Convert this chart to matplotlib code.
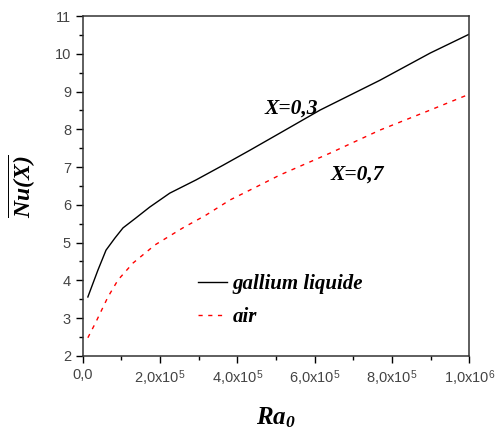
import numpy as np
import matplotlib.pyplot as plt
from matplotlib.ticker import MultipleLocator

plt.rcParams['mathtext.fontset'] = 'custom'
plt.rcParams['mathtext.rm'] = 'Liberation Serif:italic:bold'
plt.rcParams['mathtext.it'] = 'Liberation Serif:italic:bold'
plt.rcParams['mathtext.sf'] = 'Liberation Sans'

# gallium liquide (X=0,3)
ra_ga = [0.013e6, 0.039e6, 0.060e6, 0.083e6, 0.104e6, 0.137e6, 0.173e6, 0.225e6,
         0.293e6, 0.363e6, 0.433e6, 0.51e6, 0.614e6, 0.769e6, 0.899e6, 1.0e6]
nu_ga = [3.56, 4.27, 4.80, 5.12, 5.39, 5.65, 5.94, 6.31,
         6.66, 7.05, 7.45, 7.90, 8.51, 9.30, 10.02, 10.52]

# air (X=0,7)
ra_air = [0.013e6, 0.034e6, 0.065e6, 0.091e6, 0.13e6, 0.187e6, 0.259e6, 0.319e6,
          0.381e6, 0.448e6, 0.51e6, 0.64e6, 0.769e6, 0.899e6, 1.0e6]
nu_air = [2.48, 2.90, 3.56, 4.01, 4.46, 4.94, 5.39, 5.73,
          6.13, 6.47, 6.79, 7.37, 7.98, 8.51, 8.93]

xticks = [0, 2e5, 4e5, 6e5, 8e5, 1e6]
xlabels = ['0,0', '2,0x10$^{\\mathsf{5}}$', '4,0x10$^{\\mathsf{5}}$',
           '6,0x10$^{\\mathsf{5}}$', '8,0x10$^{\\mathsf{5}}$', '1,0x10$^{\\mathsf{6}}$']

fig = plt.figure(figsize=(4.96, 4.34), dpi=100)
ax = fig.add_axes([0.167, 0.18, 0.779, 0.783])

ax.plot(ra_ga, nu_ga, color='black', lw=1.0, label='gallium liquide')
ax.plot(ra_air, nu_air, color='red', lw=1.0, ls=(0, (3, 4)), label='air')

ax.set_xlim(0, 1e6)
ax.set_ylim(2, 11)
ax.set_xticks(xticks)
ax.set_xticklabels(xlabels)
ax.xaxis.set_minor_locator(MultipleLocator(1e5))
ax.yaxis.set_major_locator(MultipleLocator(1))
ax.yaxis.set_minor_locator(MultipleLocator(0.5))
ax.tick_params(which='both', direction='out', top=False, right=False,
               labelsize=10.5, labelcolor='#444444', width=1.0)
ax.tick_params(which='major', length=5)
ax.tick_params(which='minor', length=3)
for lbl in ax.get_xticklabels() + ax.get_yticklabels():
    lbl.set_family('Liberation Sans')
for s in ax.spines.values():
    s.set_linewidth(1.1)
    s.set_color('#333333')

ax.set_xlabel('$Ra_0$', fontsize=18, labelpad=13)
ax.set_ylabel('$\\overline{Nu(X)}$', fontsize=17, labelpad=12)

ax.text(0.47e6, 8.43, 'X=0,3', family='Liberation Serif', style='italic',
        weight='bold', fontsize=15.5, va='baseline')
ax.text(0.64e6, 6.66, 'X=0,7', family='Liberation Serif', style='italic',
        weight='bold', fontsize=15.5, va='baseline')

ax.legend(loc='lower left', bbox_to_anchor=(0.25, 0.03), frameon=False,
          handlelength=1.4, handletextpad=0.25, labelspacing=0.6,
          prop={'family': 'Liberation Serif', 'style': 'italic',
                'weight': 'bold', 'size': 15})

fig.savefig('out.png', dpi=100)
